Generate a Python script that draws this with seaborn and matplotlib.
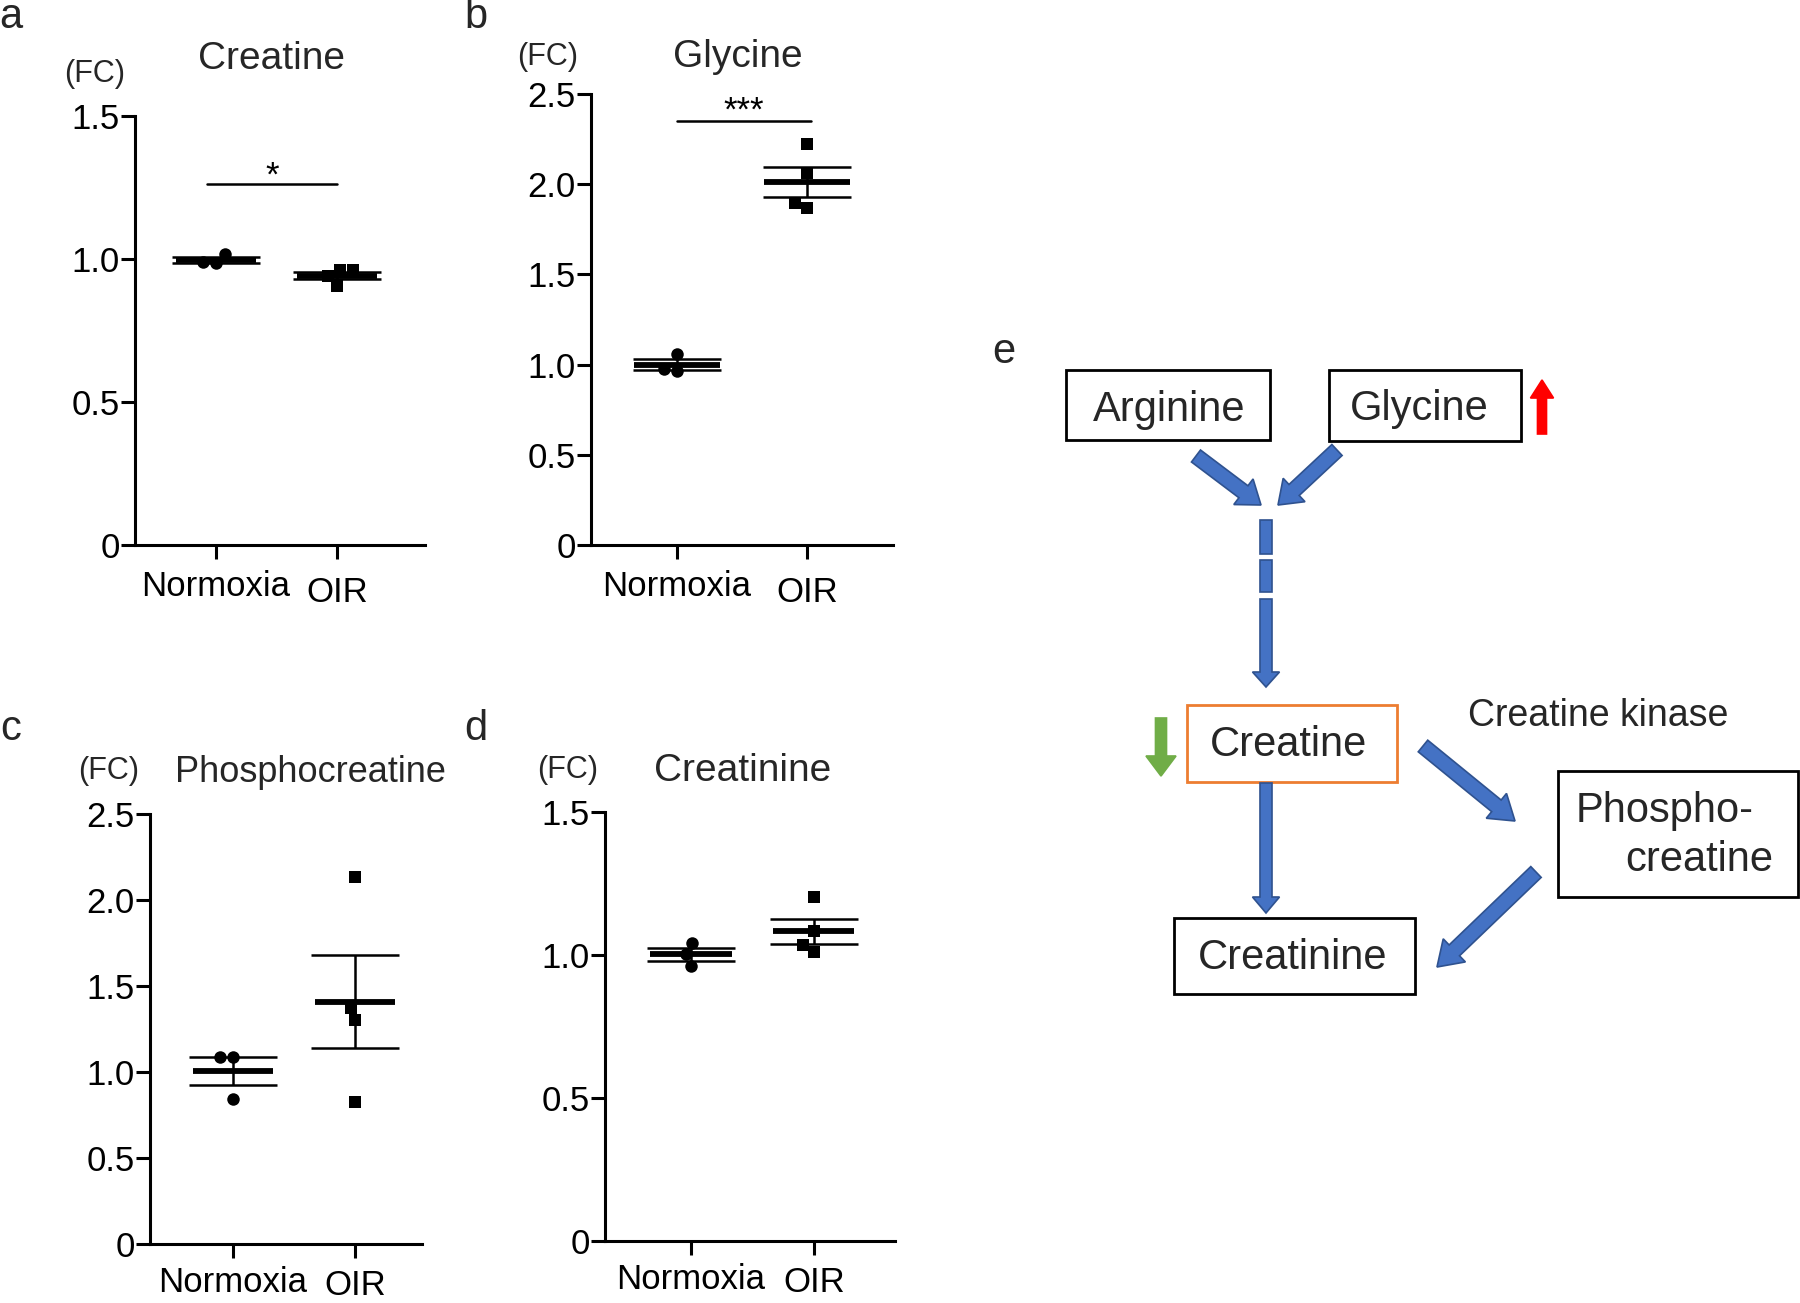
import numpy as np
import pandas as pd
import matplotlib
matplotlib.use("Agg")
import matplotlib.pyplot as plt
import seaborn as sns
from matplotlib.patches import Rectangle, FancyArrow
from matplotlib.transforms import ScaledTranslation

# ── Data: fold change (FC) relative to normoxia ─────────────────────────────
GROUPS = ["Normoxia", "OIR"]

creatine_normoxia        = [0.986, 1.018, 0.989]
creatine_oir             = [0.960, 0.906, 0.960, 0.939]
glycine_normoxia         = [0.966, 1.057, 0.977]
glycine_oir              = [2.223, 2.063, 1.897, 1.869]
phosphocreatine_normoxia = [1.087, 1.087, 0.844]
phosphocreatine_oir      = [2.133, 1.370, 1.300, 0.827]
creatinine_normoxia      = [1.042, 0.962, 1.003]
creatinine_oir           = [1.203, 1.010, 1.035, 1.084]

ticks_15 = [0, 0.5, 1.0, 1.5]
ticks_25 = [0, 0.5, 1.0, 1.5, 2.0, 2.5]
tick_labels_15 = ["0", "0.5", "1.0", "1.5"]
tick_labels_25 = ["0", "0.5", "1.0", "1.5", "2.0", "2.5"]

# ── Figure geometry (pixels) ────────────────────────────────────────────────
W, H = 1800, 1303
BLUE, BLUE_EDGE = "#4472C4", "#2F528F"
ORANGE, GREEN, RED = "#ED7D31", "#70AD47", "#FF0000"

sns.set_theme(style="ticks")
plt.rcParams["font.family"] = ["Liberation Sans", "DejaVu Sans"]


def px_rect(left, top, right, bottom):
    return [left / W, 1 - bottom / H, (right - left) / W, (bottom - top) / H]


def make_frame(normoxia, oir):
    return pd.DataFrame({
        "group": ["Normoxia"] * len(normoxia) + ["OIR"] * len(oir),
        "fc": list(normoxia) + list(oir),
    })


def draw_panel(fig, rect, normoxia, oir, ticks, tick_labels, xlim, xpad=8, oir_drop=4):
    ax = fig.add_axes(rect)
    ax.patch.set_alpha(0)
    df = make_frame(normoxia, oir)
    ax.set_xlim(*xlim)
    ax.set_ylim(ticks[0], ticks[-1])

    stats = df.groupby("group")["fc"].agg(["mean", "sem"]).reindex(GROUPS)
    for i, g in enumerate(GROUPS):
        m, s = stats.loc[g, "mean"], stats.loc[g, "sem"]
        ax.errorbar(i, m, yerr=s, fmt="none", ecolor="black",
                    elinewidth=1.8, capsize=32, capthick=1.8, zorder=3)
        ax.hlines(m, i - 0.33, i + 0.33, color="black", lw=4.2, zorder=4)

    sns.swarmplot(data=df[df["group"] == "Normoxia"], x="group", y="fc",
                  order=GROUPS, color="black", marker="o", size=9, ax=ax, zorder=5)
    sns.swarmplot(data=df[df["group"] == "OIR"], x="group", y="fc",
                  order=GROUPS, color="black", marker="s", size=9, ax=ax, zorder=5)
    ax.set_xlim(*xlim)
    ax.set_ylim(ticks[0], ticks[-1])

    ax.set_yticks(ticks)
    ax.set_yticklabels(tick_labels)
    ax.set_xticks(range(len(GROUPS)))
    ax.set_xticklabels(GROUPS)
    ax.set_xlabel("")
    ax.set_ylabel("")
    for side in ("top", "right"):
        ax.spines[side].set_visible(False)
    for side in ("left", "bottom"):
        ax.spines[side].set_linewidth(2.2)
        ax.spines[side].set_color("black")
    ax.tick_params(axis="y", direction="out", length=10, width=2.2,
                   labelsize=25, pad=1, colors="black")
    ax.tick_params(axis="x", direction="out", length=10, width=2.2,
                   labelsize=25, pad=xpad, colors="black")
    # OIR label sits slightly lower than Normoxia in the original
    lab = ax.get_xticklabels()[1]
    lab.set_transform(lab.get_transform() +
                      ScaledTranslation(0, -oir_drop / 72, fig.dpi_scale_trans))
    return ax


def add_sig(ax, x0, x1, y, text, offset):
    ax.plot([x0, x1], [y, y], color="black", lw=1.8, clip_on=False)
    ax.annotate(text, xy=((x0 + x1) / 2, y), xytext=(0, offset),
                textcoords="offset points", ha="center", va="center",
                fontsize=25, color="black")


def fat_arrow(ax, x0, y0, x1, y1, width, head_w, head_len, color=BLUE, edge=BLUE_EDGE):
    ax.add_patch(FancyArrow(x0, y0, x1 - x0, y1 - y0, width=width,
                            head_width=head_w, head_length=head_len,
                            length_includes_head=True, facecolor=color,
                            edgecolor=edge, lw=1.2))


def box(ax, left, top, right, bottom, color="black"):
    ax.add_patch(Rectangle((left, top), right - left, bottom - top,
                           fill=False, edgecolor=color, lw=2.0))


def main():
    fig = plt.figure(figsize=(W / 100, H / 100), dpi=100)

    # overlay in pixel coordinates for letters, titles and the pathway diagram
    ov = fig.add_axes([0, 0, 1, 1])
    ov.set_xlim(0, W)
    ov.set_ylim(H, 0)
    ov.axis("off")

    ax_a = draw_panel(fig, px_rect(135, 116, 425, 545), creatine_normoxia, creatine_oir,
                      ticks_15, tick_labels_15, (-0.67, 1.73))
    ax_b = draw_panel(fig, px_rect(591, 94, 893, 545), glycine_normoxia, glycine_oir,
                      ticks_25, tick_labels_25, (-0.66, 1.66))
    draw_panel(fig, px_rect(150, 814, 422, 1244), phosphocreatine_normoxia,
               phosphocreatine_oir, ticks_25, tick_labels_25, (-0.68, 1.55),
               xpad=6, oir_drop=2)
    draw_panel(fig, px_rect(605, 812, 895, 1241), creatinine_normoxia, creatinine_oir,
               ticks_15, tick_labels_15, (-0.70, 1.66), xpad=6, oir_drop=2)

    add_sig(ax_a, -0.07, 1.0, 1.262, "*", 6)
    add_sig(ax_b, 0.0, 1.03, 2.35, "***", 7)

    # panel letters, titles and (FC) unit labels
    for letter, x, y in [("a", 11, 17), ("b", 476, 17), ("c", 11, 729),
                         ("d", 476, 729), ("e", 1004, 352)]:
        ov.text(x, y, letter, fontsize=30, ha="center", va="center")
    for title, x, y, fs in [("Creatine", 271, 59, 28), ("Glycine", 738, 57, 28),
                            ("Phosphocreatine", 310, 773, 26),
                            ("Creatinine", 743, 771, 28)]:
        ov.text(x, y, title, fontsize=fs, ha="center", va="center")
    for x, y in [(95, 74), (548, 57), (109, 771), (568, 770)]:
        ov.text(x, y, "(FC)", fontsize=22, ha="center", va="center")

    # ── pathway diagram (panel e) ──
    box(ov, 1066, 370, 1270, 440)
    ov.text(1169, 410, "Arginine", fontsize=30, ha="center", va="center")
    box(ov, 1329, 370, 1521, 441)
    ov.text(1419, 409, "Glycine", fontsize=30, ha="center", va="center")
    fat_arrow(ov, 1542, 434, 1542, 380, 9, 23, 18, color=RED, edge=RED)

    fat_arrow(ov, 1196, 456, 1261, 505, 15, 32, 22)
    fat_arrow(ov, 1337, 450, 1278, 505, 15, 32, 22)
    for top, bottom in [(520, 554), (560, 592)]:
        ov.add_patch(Rectangle((1260, top), 12, bottom - top,
                               facecolor=BLUE, edgecolor=BLUE_EDGE, lw=1.2))
    fat_arrow(ov, 1266, 599, 1266, 687, 12, 27, 15)

    box(ov, 1187, 705, 1397, 782, color=ORANGE)
    ov.text(1289, 745, "Creatine", fontsize=30, ha="center", va="center")
    fat_arrow(ov, 1161, 718, 1161, 776, 11, 30, 20, color=GREEN, edge=GREEN)
    ov.text(1598, 716, "Creatine kinase", fontsize=27, ha="center", va="center")

    fat_arrow(ov, 1266, 783, 1266, 913, 12, 27, 16)
    box(ov, 1174, 918, 1415, 994)
    ov.text(1293, 958, "Creatinine", fontsize=30, ha="center", va="center")

    fat_arrow(ov, 1423, 746, 1515, 821, 15, 32, 24)
    box(ov, 1558, 771, 1798, 897)
    ov.text(1665, 811, "Phospho-", fontsize=30, ha="center", va="center")
    ov.text(1699, 860, "creatine", fontsize=30, ha="center", va="center")
    fat_arrow(ov, 1536, 872, 1437, 967, 15, 32, 24)

    fig.savefig("out.png", dpi=100)
    plt.close(fig)


if __name__ == "__main__":
    main()
